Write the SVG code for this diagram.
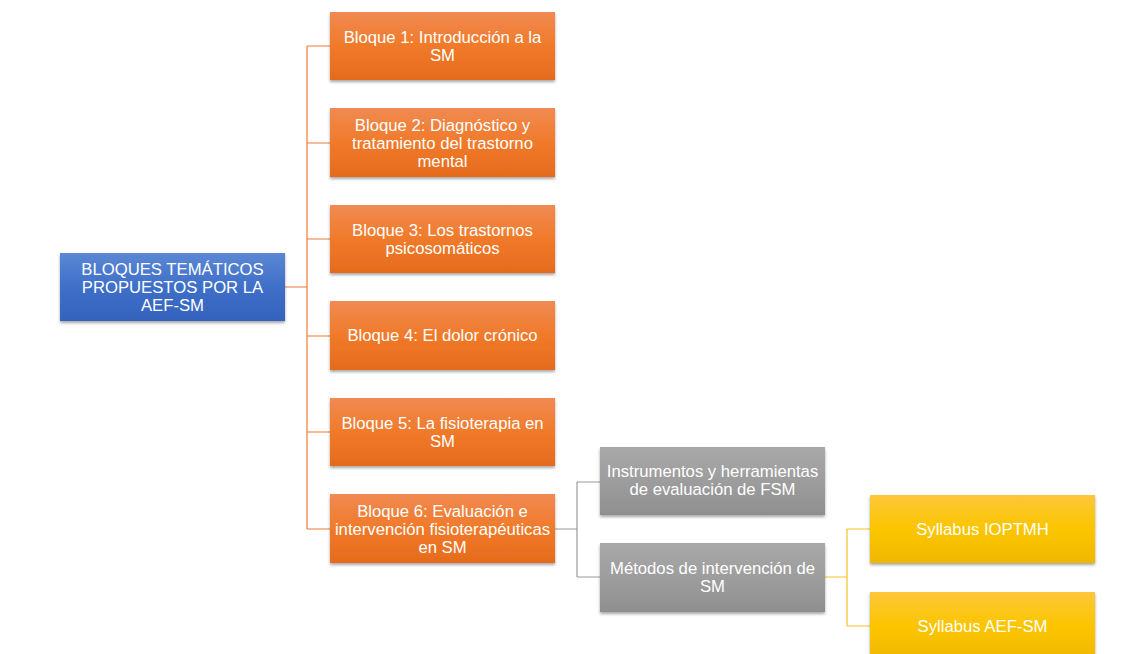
<svg xmlns="http://www.w3.org/2000/svg" width="1132" height="654" viewBox="0 0 1132 654">
<defs>
<linearGradient id="gB" x1="0" y1="0" x2="0" y2="1"><stop offset="0" stop-color="#5b87d4"/><stop offset="0.5" stop-color="#3f6fc8"/><stop offset="1" stop-color="#3462bc"/></linearGradient>
<linearGradient id="gO" x1="0" y1="0" x2="0" y2="1"><stop offset="0" stop-color="#f08a52"/><stop offset="0.5" stop-color="#f07a2a"/><stop offset="1" stop-color="#e56b1c"/></linearGradient>
<linearGradient id="gG" x1="0" y1="0" x2="0" y2="1"><stop offset="0" stop-color="#a8a8a8"/><stop offset="0.5" stop-color="#9d9d9d"/><stop offset="1" stop-color="#8f8f8f"/></linearGradient>
<linearGradient id="gY" x1="0" y1="0" x2="0" y2="1"><stop offset="0" stop-color="#fcc73a"/><stop offset="0.5" stop-color="#fcc500"/><stop offset="1" stop-color="#efb800"/></linearGradient>
<filter id="sh" x="-10%" y="-10%" width="120%" height="130%"><feDropShadow dx="0" dy="2" stdDeviation="1.5" flood-color="#000" flood-opacity="0.35"/></filter>
</defs>
<style>
text{font-family:"Liberation Sans",Arial,sans-serif;font-size:16.7px;fill:#fff;text-anchor:middle}
.b{filter:url(#sh)}
.lo{stroke:#ee7a35;stroke-width:1.2;fill:none}
.lg{stroke:#9a9a9a;stroke-width:1.2;fill:none}
.ly{stroke:#f8c22a;stroke-width:1.2;fill:none}
</style>
<rect width="1132" height="654" fill="#fff"/>
<g id="connectors">
<path class="lo" d="M285,287H307M307,46V529M307,46H330M307,143H330M307,239H330M307,336H330M307,432H330M307,529H330"/>
<path class="lg" d="M555,529H577M577,482V577M577,482H600M577,577H600"/>
<path class="ly" d="M825,577H847M847,529V626M847,529H870M847,626H870"/>
</g>
<g id="root"><rect class="b" x="60" y="253" width="225" height="68" fill="url(#gB)"/><text x="172.5" y="275">BLOQUES TEMÁTICOS</text><text x="172.5" y="293">PROPUESTOS POR LA</text><text x="172.5" y="311">AEF-SM</text></g>
<g id="b1"><rect class="b" x="330" y="12" width="225" height="68" fill="url(#gO)"/><text x="442.5" y="43">Bloque 1: Introducción a la</text><text x="442.5" y="61">SM</text></g>
<g id="b2"><rect class="b" x="330" y="108" width="225" height="69" fill="url(#gO)"/><text x="442.5" y="131">Bloque 2: Diagnóstico y</text><text x="442.5" y="149">tratamiento del trastorno</text><text x="442.5" y="167">mental</text></g>
<g id="b3"><rect class="b" x="330" y="205" width="225" height="68" fill="url(#gO)"/><text x="442.5" y="236">Bloque 3: Los trastornos</text><text x="442.5" y="254">psicosomáticos</text></g>
<g id="b4"><rect class="b" x="330" y="301" width="225" height="69" fill="url(#gO)"/><text x="442.5" y="341">Bloque 4: El dolor crónico</text></g>
<g id="b5"><rect class="b" x="330" y="398" width="225" height="68" fill="url(#gO)"/><text x="442.5" y="429">Bloque 5: La fisioterapia en</text><text x="442.5" y="447">SM</text></g>
<g id="b6"><rect class="b" x="330" y="494" width="225" height="69" fill="url(#gO)"/><text x="442.5" y="517">Bloque 6: Evaluación e</text><text x="442.5" y="535">intervención fisioterapéuticas</text><text x="442.5" y="553">en SM</text></g>
<g id="g1"><rect class="b" x="600" y="447" width="225" height="68" fill="url(#gG)"/><text x="712.5" y="477">Instrumentos y herramientas</text><text x="712.5" y="495">de evaluación de FSM</text></g>
<g id="g2"><rect class="b" x="600" y="543" width="225" height="69" fill="url(#gG)"/><text x="712.5" y="574">Métodos de intervención de</text><text x="712.5" y="592">SM</text></g>
<g id="y1"><rect class="b" x="870" y="495" width="225" height="68" fill="url(#gY)"/><text x="982.5" y="535">Syllabus IOPTMH</text></g>
<g id="y2"><rect class="b" x="870" y="592" width="225" height="68" fill="url(#gY)"/><text x="982.5" y="632">Syllabus AEF-SM</text></g>
</svg>
